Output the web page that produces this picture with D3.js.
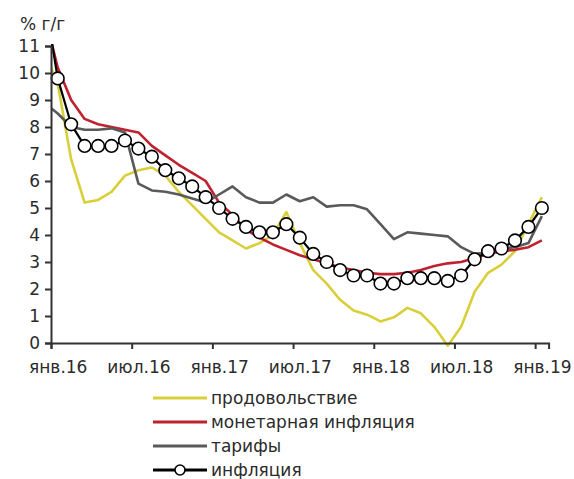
<!DOCTYPE html>
<html>
<head>
<meta charset="utf-8">
<script src="https://cdn.jsdelivr.net/npm/d3@7"></script>
<style>
  body { margin: 0; background: #fff; }
  text { font-family: "DejaVu Sans", sans-serif; fill: #2b2b2b; }
</style>
</head>
<body>
<div id="chart"></div>
<script>
// months: Dec 2015 (index 0, only partly visible) then Jan 2016 .. Jan 2019
var monthCount = 38;
var tickLabels = ["янв.16", "июл.16", "янв.17", "июл.17", "янв.18", "июл.18", "янв.19"];
var seriesNames = ["продовольствие", "монетарная инфляция", "тарифы", "инфляция"];

var food = [10.8, 9.6, 6.8, 5.2, 5.3, 5.6, 6.2, 6.4, 6.5, 6.2, 5.6, 5.1, 4.6, 4.1, 3.8, 3.5, 3.7, 4.0, 4.85, 3.7,
            2.7, 2.2, 1.6, 1.2, 1.05, 0.8, 0.95, 1.3, 1.1, 0.6, -0.1, 0.6, 1.9, 2.6, 2.9, 3.4, 4.4, 5.4];
var monetary = [12.2, 10.2, 9.0, 8.3, 8.1, 8.0, 7.9, 7.8, 7.3, 6.95, 6.6, 6.3, 6.0, 5.2, 4.75, 4.2, 3.9, 3.65, 3.45, 3.25,
                3.1, 2.95, 2.8, 2.7, 2.6, 2.55, 2.55, 2.6, 2.7, 2.85, 2.95, 3.0, 3.15, 3.3, 3.4, 3.45, 3.55, 3.8];
var tariffs = [8.9, 8.5, 8.0, 7.9, 7.9, 7.95, 7.8, 5.9, 5.65, 5.6, 5.5, 5.35, 5.2, 5.5, 5.8, 5.4, 5.2, 5.2, 5.5, 5.25,
               5.4, 5.05, 5.1, 5.1, 4.95, 4.4, 3.85, 4.1, 4.05, 4.0, 3.95, 3.55, 3.3, 3.35, 3.5, 3.55, 3.7, 4.7];
var inflation = [12.9, 9.8, 8.1, 7.3, 7.3, 7.3, 7.5, 7.2, 6.9, 6.4, 6.1, 5.8, 5.4, 5.0, 4.6, 4.3, 4.1, 4.1, 4.4, 3.9,
                 3.3, 3.0, 2.7, 2.5, 2.5, 2.2, 2.2, 2.4, 2.4, 2.4, 2.3, 2.5, 3.1, 3.4, 3.5, 3.8, 4.3, 5.0];

var colors = ["#d9cf3a", "#c0212f", "#5a5a5a", "#000"];

var svgWidth = 574;
var svgHeight = 479;

var svg = d3.select("#chart")
            .append("svg")
            .attr("width", svgWidth)
            .attr("height", svgHeight);

// category axis: index i (0 = Dec15) centred in its slot, Jan16 slot starts at the y axis
var xScale = d3.scaleLinear()
    .domain([0.5, monthCount - 0.5])
    .range([51, 548.6]);

var yScale = d3.scaleLinear()
    .domain([0, 11])
    .range([343, 46]);

svg.append("clipPath")
    .attr("id", "plot-clip")
    .append("rect")
    .attr("x", 51)
    .attr("y", 44)
    .attr("width", 498)
    .attr("height", 304);

var plot = svg.append("g").attr("clip-path", "url(#plot-clip)");

var line = d3.line()
    .x((d, i) => xScale(i))
    .y(d => yScale(d));

[food, monetary, tariffs, inflation].forEach(function(values, k) {
    plot.append("path")
        .datum(values)
        .attr("fill", "none")
        .attr("stroke", colors[k])
        .attr("stroke-width", k === 3 ? 2.2 : 2.6)
        .attr("stroke-linejoin", "round")
        .attr("d", line);
});

// markers for inflation, Jan16 onward
svg.append("g").selectAll("circle")
    .data(inflation.slice(1))
    .enter()
    .append("circle")
    .attr("cx", (d, i) => xScale(i + 1))
    .attr("cy", d => yScale(d))
    .attr("r", 6.3)
    .attr("fill", "#fff")
    .attr("stroke", "#000")
    .attr("stroke-width", 1.6);

// y axis
var leftAxis = d3.axisLeft(yScale)
    .tickValues(d3.range(0, 12))
    .tickSize(6)
    .tickPadding(5);

var yAxis = svg.append("g")
    .attr("transform", "translate(51,0)")
    .call(leftAxis);

// x axis: ticks on slot boundaries every 6 months
var bottomAxis = d3.axisBottom(xScale)
    .tickValues(d3.range(0, 7).map(k => 0.5 + k * 6))
    .tickSize(6)
    .tickFormat("");

var xAxis = svg.append("g")
    .attr("transform", "translate(0,343)")
    .call(bottomAxis);

var labelAxis = d3.axisBottom(xScale)
    .tickValues(d3.range(0, 7).map(k => 1 + k * 6))
    .tickSize(0)
    .tickPadding(18)
    .tickFormat((d, i) => tickLabels[i]);

var xLabels = svg.append("g")
    .attr("transform", "translate(0,343)")
    .call(labelAxis);
xLabels.select(".domain").remove();

[yAxis, xAxis].forEach(function(ax) {
    ax.select(".domain").attr("stroke", "#333").attr("stroke-width", 2);
    ax.selectAll(".tick line").attr("stroke", "#333").attr("stroke-width", 2);
});

svg.selectAll(".tick text")
    .attr("font-family", "DejaVu Sans, sans-serif")
    .attr("font-size", "17px")
    .attr("fill", "#2b2b2b");

svg.append("text")
    .attr("x", 20)
    .attr("y", 30)
    .attr("font-size", "17px")
    .text("% г/г");

// legend
var legend = svg.append("g");
seriesNames.forEach(function(name, k) {
    var ly = 398 + k * 24;
    legend.append("line")
        .attr("x1", 153)
        .attr("x2", 207)
        .attr("y1", ly)
        .attr("y2", ly)
        .attr("stroke", colors[k])
        .attr("stroke-width", 3);
    if (k === 3) {
        legend.append("circle")
            .attr("cx", 180)
            .attr("cy", ly)
            .attr("r", 5)
            .attr("fill", "#fff")
            .attr("stroke", "#000")
            .attr("stroke-width", 1.6);
    }
    legend.append("text")
        .attr("x", 211)
        .attr("y", ly + 6)
        .attr("font-size", "17px")
        .text(name);
});
</script>
</body>
</html>
